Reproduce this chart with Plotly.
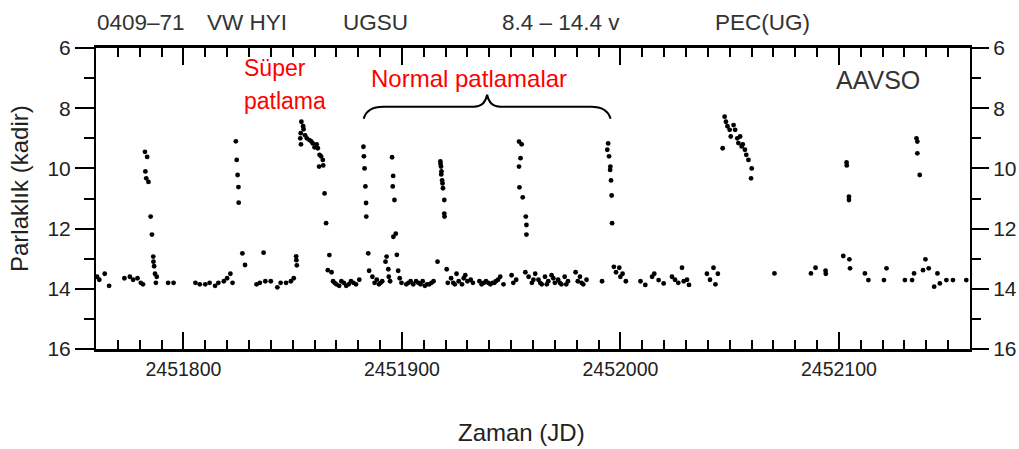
import plotly.graph_objects as go

# ---------------- data ----------------
jd = [
    2451760.5, 2451761.5, 2451764.0, 2451766.0,
    2451773.0, 2451775.5, 2451777.0, 2451779.0, 2451780.5, 2451781.5,
    2451782.4, 2451783.4, 2451782.6, 2451783.0, 2451784.0, 2451785.0, 2451785.6,
    2451786.2, 2451786.6, 2451787.0, 2451787.4, 2451787.8, 2451786.3,
    2451793.0, 2451795.5,
    2451805.5, 2451807.5, 2451810.0, 2451812.0, 2451814.5, 2451816.0, 2451818.5,
    2451820.0, 2451821.5, 2451822.5,
    2451824.0, 2451824.4, 2451824.8, 2451825.2, 2451825.3, 2451827.0, 2451828.2,
    2451836.7,
    2451833.5, 2451835.0, 2451837.5, 2451840.0, 2451843.0, 2451844.5, 2451847.0,
    2451849.2, 2451850.5,
    2451851.6, 2451851.7, 2451851.9,
    2451854.0, 2451854.8, 2451853.7, 2451855.7, 2451853.8, 2451857.7, 2451859.2,
    2451861.5, 2451862.3, 2451863.8, 2451862.1, 2451864.6, 2451865.3, 2451866.8,
    2451866.1, 2451853.5, 2451855.0, 2451856.5, 2451858.5, 2451860.0, 2451861.0,
    2451863.0, 2451864.0,
    2451867.8, 2451868.5, 2451870.0, 2451872.3, 2451874.5, 2451876.7, 2451879.0,
    2451880.5, 2451869.2, 2451871.3, 2451873.4, 2451875.6, 2451877.8,
    2451882.4, 2451882.6, 2451882.9, 2451883.3, 2451883.6, 2451883.7, 2451884.6,
    2451885.0,
    2451886.5, 2451887.5, 2451889.5, 2451891.0, 2451892.5, 2451893.0, 2451894.0,
    2451888.5, 2451890.2, 2451893.8, 2451894.6,
    2451895.5, 2451896.0, 2451895.8, 2451896.6, 2451896.1, 2451897.2, 2451897.7,
    2451898.3, 2451899.0, 2451899.8,
    2451902.0, 2451904.0, 2451906.5, 2451908.5, 2451910.5, 2451912.5, 2451914.5,
    2451916.3, 2451903.0, 2451905.2, 2451907.5, 2451909.5, 2451911.5, 2451913.5,
    2451917.6, 2451917.9, 2451918.1, 2451918.4, 2451918.8, 2451919.4, 2451919.4,
    2451919.5, 2451917.7, 2451918.0, 2451918.6,
    2451920.5, 2451921.0, 2451922.5, 2451923.5, 2451925.0, 2451926.0, 2451927.5,
    2451929.0, 2451930.0, 2451931.5, 2451924.2, 2451928.3, 2451932.5,
    2451935.5, 2451937.5, 2451939.5, 2451941.5, 2451943.0, 2451945.0, 2451946.5,
    2451936.5, 2451938.5, 2451940.5, 2451942.3, 2451944.0,
    2451950.2, 2451951.0, 2451952.3,
    2451953.6, 2451954.8, 2451954.3, 2451953.6, 2451953.8, 2451955.3, 2451956.7,
    2451957.0, 2451957.0,
    2451956.5, 2451958.0, 2451959.5, 2451961.0, 2451962.5, 2451964.0, 2451965.5,
    2451967.0, 2451968.5, 2451970.0, 2451971.5, 2451973.0, 2451974.5, 2451976.0,
    2451960.2, 2451963.3, 2451966.3, 2451969.3, 2451972.3, 2451975.2,
    2451979.5, 2451980.5, 2451981.5, 2451983.0, 2451984.5, 2451982.2,
    2451991.6,
    2451994.4, 2451994.0, 2451994.8, 2451995.4, 2451995.3, 2451995.7, 2451996.0,
    2451996.2,
    2451997.0, 2451998.0, 2451999.5, 2452000.0, 2452001.0, 2452002.5,
    2452009.2, 2452011.4, 2452014.5, 2452015.5, 2452017.5, 2452019.8,
    2452023.6, 2452025.0, 2452026.5, 2452028.2, 2452029.0, 2452030.5, 2452031.4,
    2452039.6, 2452041.0, 2452042.6, 2452043.5, 2452044.6,
    2452046.8, 2452047.7, 2452049.0, 2452050.0, 2452051.8, 2452052.5, 2452050.5,
    2452053.5, 2452054.8, 2452054.0, 2452055.5, 2452057.0, 2452057.6, 2452058.6,
    2452060.1, 2452059.8, 2452048.3, 2452056.0,
    2452070.5,
    2452087.2, 2452089.3, 2452093.9, 2452094.0,
    2452102.0, 2452103.5, 2452103.6, 2452104.6, 2452104.6, 2452104.8, 2452105.1,
    2452111.9, 2452113.5, 2452120.6, 2452121.8,
    2452130.2, 2452133.5, 2452134.4,
    2452135.5, 2452135.9, 2452135.9, 2452137.0,
    2452138.5, 2452139.6, 2452141.1, 2452143.6, 2452145.1, 2452146.2, 2452149.2,
    2452152.2, 2452158.3,
]
mag = [
    13.6, 13.7, 13.5, 13.9,
    13.65, 13.6, 13.7, 13.65, 13.8, 13.85,
    9.45, 9.62, 10.1, 10.33, 10.45, 11.6, 12.2,
    12.93, 13.25, 13.5, 13.8, 13.6, 13.1,
    13.8, 13.8,
    13.8, 13.85, 13.85, 13.8, 13.9, 13.8, 13.75,
    13.65, 13.5, 13.8,
    9.1, 9.72, 10.22, 10.62, 11.14, 12.82, 13.21,
    12.8,
    13.85, 13.8, 13.75, 13.75, 13.95, 13.8, 13.8,
    13.75, 13.65,
    12.92, 13.05, 13.22,
    8.45, 8.6, 8.83, 8.9, 9.2, 9.06, 9.17,
    9.33, 9.55, 9.72, 9.94, 10.83, 11.82, 12.88,
    13.38, 9.0, 8.7, 9.0, 9.1, 9.3, 9.2,
    9.6, 9.9,
    13.45, 13.75, 13.85, 13.75, 13.9, 13.75, 13.85,
    13.7, 13.8, 13.9, 13.8, 13.85, 13.8,
    9.28, 9.6, 10.0, 10.6, 11.15, 11.6, 12.82,
    13.4,
    13.6, 13.8, 13.85, 13.75, 13.1, 12.93, 13.6,
    13.7, 13.8, 13.35, 13.75,
    9.63, 10.25, 10.6, 11.05, 12.27, 12.17, 12.87,
    13.4, 13.65, 13.8,
    13.85, 13.75, 13.75, 13.85, 13.9, 13.85, 13.75,
    13.1, 13.8, 13.85, 13.8, 13.75, 13.85, 13.8,
    9.77, 9.94, 10.1, 10.4, 10.66, 11.05, 11.5,
    11.6, 9.85, 10.2, 10.5,
    13.35, 13.8, 13.65, 13.8, 13.5, 13.75, 13.85,
    13.55, 13.75, 13.7, 13.85, 13.65, 13.8,
    13.75, 13.8, 13.8, 13.8, 13.75, 13.6, 13.85,
    13.85, 13.75, 13.85, 13.8, 13.7,
    13.55, 13.8, 13.7,
    9.11, 9.2, 9.66, 9.94, 10.63, 10.96, 11.6,
    11.88, 12.2,
    13.45, 13.6, 13.8, 13.5, 13.7, 13.85, 13.6,
    13.75, 13.55, 13.8, 13.7, 13.85, 13.6, 13.75,
    13.7, 13.8, 13.85, 13.65, 13.8, 13.85,
    13.45, 13.75, 13.6, 13.85, 13.7, 13.8,
    13.75,
    9.17, 9.38, 9.6, 9.94, 10.05, 10.4, 10.9,
    11.82,
    13.27, 13.45, 13.3, 13.6, 13.5, 13.75,
    13.75, 13.87, 13.6, 13.5, 13.71, 13.82,
    13.6, 13.7, 13.8, 13.3, 13.75, 13.7, 13.87,
    13.5, 13.7, 13.3, 13.85, 13.5,
    9.33, 8.28, 8.6, 8.72, 8.56, 8.72, 8.94,
    9.0, 8.94, 9.16, 9.27, 9.38, 9.55, 9.72,
    10.0, 10.33, 8.45, 9.2,
    13.49,
    13.49, 13.3, 13.4, 13.5,
    12.91, 9.8, 9.9, 10.94, 11.05, 13.02, 13.32,
    13.49, 13.71, 13.71, 13.32,
    13.71, 13.71, 13.49,
    9.0, 9.11, 9.5, 10.22,
    13.38, 13.02, 13.32, 13.93, 13.49, 13.82, 13.71,
    13.71, 13.71,
]

x_range = [2451760, 2452160]
y_range = [16, 6]
x_tickvals = [2451800, 2451900, 2452000, 2452100]
x_ticktext = ["2451800", "2451900", "2452000", "2452100"]
y_tickvals = [6, 8, 10, 12, 14, 16]

header_texts = ["0409\u201371", "VW HYI", "UGSU", "8.4 \u2013 14.4 v", "PEC(UG)"]
header_xpix = [141, 247, 375, 561, 762]

# brace over the normal outbursts (data units)
brace_x = [2451882.5, 2451939.0, 2451995.5]
brace_y = [8.35, 7.95, 7.55]

# ---------------- layout geometry ----------------
W, H = 1019, 449
L, R, T, B = 96, 970, 48, 349

def px(xp):
    return (xp - L) / (R - L)

def py(yp):
    return (B - yp) / (B - T)

FONT = "Liberation Sans, Arial, sans-serif"

fig = go.Figure()
fig.add_trace(go.Scatter(
    x=jd, y=mag, mode="markers",
    marker=dict(color="black", size=4.8, symbol="circle"),
    showlegend=False, hoverinfo="x+y",
))
# invisible trace to activate the right-hand axis
fig.add_trace(go.Scatter(
    x=[x_range[0]], y=[y_range[1]], yaxis="y2", mode="markers",
    marker=dict(opacity=0), showlegend=False, hoverinfo="skip",
))

axis_common = dict(showgrid=False, zeroline=False, showline=True, automargin=False,
                   linecolor="black", tickcolor="black")

fig.update_layout(
    template="none",
    width=W, height=H,
    margin=dict(l=L, r=W - R, t=T, b=H - B, pad=0),
    plot_bgcolor="white", paper_bgcolor="white",
    xaxis=dict(
        range=x_range, tickvals=x_tickvals, ticktext=x_ticktext,
        ticks="inside", ticklen=17, tickwidth=1.5, linewidth=2.5,
        mirror="ticks",
        minor=dict(dtick=10, tick0=x_range[0], ticks="inside", ticklen=9,
                   tickwidth=1.5, tickcolor="black", showgrid=False),
        tickfont=dict(family=FONT, size=19.5, color="#222"),
        ticklabelstandoff=1,
        **axis_common,
    ),
    yaxis=dict(
        range=y_range, tickvals=y_tickvals,
        ticks="outside", ticklen=19, tickwidth=2, linewidth=2,
        minor=dict(dtick=1, ticks="outside", ticklen=10, tickwidth=2,
                   tickcolor="black", showgrid=False),
        tickfont=dict(family=FONT, size=21, color="#222"),
        **axis_common,
    ),
    yaxis2=dict(
        range=y_range, tickvals=y_tickvals, overlaying="y", side="right",
        ticks="outside", ticklen=17, tickwidth=2, linewidth=2,
        minor=dict(dtick=1, ticks="outside", ticklen=9, tickwidth=2,
                   tickcolor="black", showgrid=False),
        tickfont=dict(family=FONT, size=21, color="#222"),
        **axis_common,
    ),
)

ann = []
for t, xp in zip(header_texts, header_xpix):
    ann.append(dict(text=t, x=px(xp), y=py(22), xref="paper", yref="paper",
                    xanchor="center", yanchor="middle", showarrow=False,
                    font=dict(family=FONT, size=22.5, color="#333")))
ann.append(dict(text="AAVSO", x=px(878), y=py(80), xref="paper", yref="paper",
                xanchor="center", yanchor="middle", showarrow=False,
                font=dict(family=FONT, size=25, color="#333")))
ann.append(dict(text="S\u00fcper", x=px(242), y=py(68), xref="paper", yref="paper",
                xanchor="left", yanchor="middle", showarrow=False,
                font=dict(family=FONT, size=23, color="#ff0000")))
ann.append(dict(text="patlama", x=px(242), y=py(101), xref="paper", yref="paper",
                xanchor="left", yanchor="middle", showarrow=False,
                font=dict(family=FONT, size=23, color="#ff0000")))
ann.append(dict(text="Normal patlamalar", x=px(469), y=py(78), xref="paper", yref="paper",
                xanchor="center", yanchor="middle", showarrow=False,
                font=dict(family=FONT, size=24, color="#ff0000")))
ann.append(dict(text="Zaman (JD)", x=px(521), y=py(432), xref="paper", yref="paper",
                xanchor="center", yanchor="middle", showarrow=False,
                font=dict(family=FONT, size=24, color="#222")))
ann.append(dict(text="Parlakl\u0131k (kadir)", x=px(19), y=py(189), xref="paper", yref="paper",
                xanchor="center", yanchor="middle", showarrow=False, textangle=-90,
                font=dict(family=FONT, size=24, color="#222")))
fig.update_layout(annotations=ann)

x0, xm, x1 = brace_x
yl, yh, yp = brace_y
path = (f"M {x0},{yl} Q {x0 + 1.5},{yh} {x0 + 9},{yh} "
        f"L {xm - 6},{yh} Q {xm - 1},{yh} {xm},{yp} "
        f"Q {xm + 1},{yh} {xm + 6},{yh} "
        f"L {x1 - 9},{yh} Q {x1 - 1.5},{yh} {x1},{yl}")
fig.add_shape(type="path", path=path, xref="x", yref="y",
              line=dict(color="black", width=2))

fig.write_html("out.html")
